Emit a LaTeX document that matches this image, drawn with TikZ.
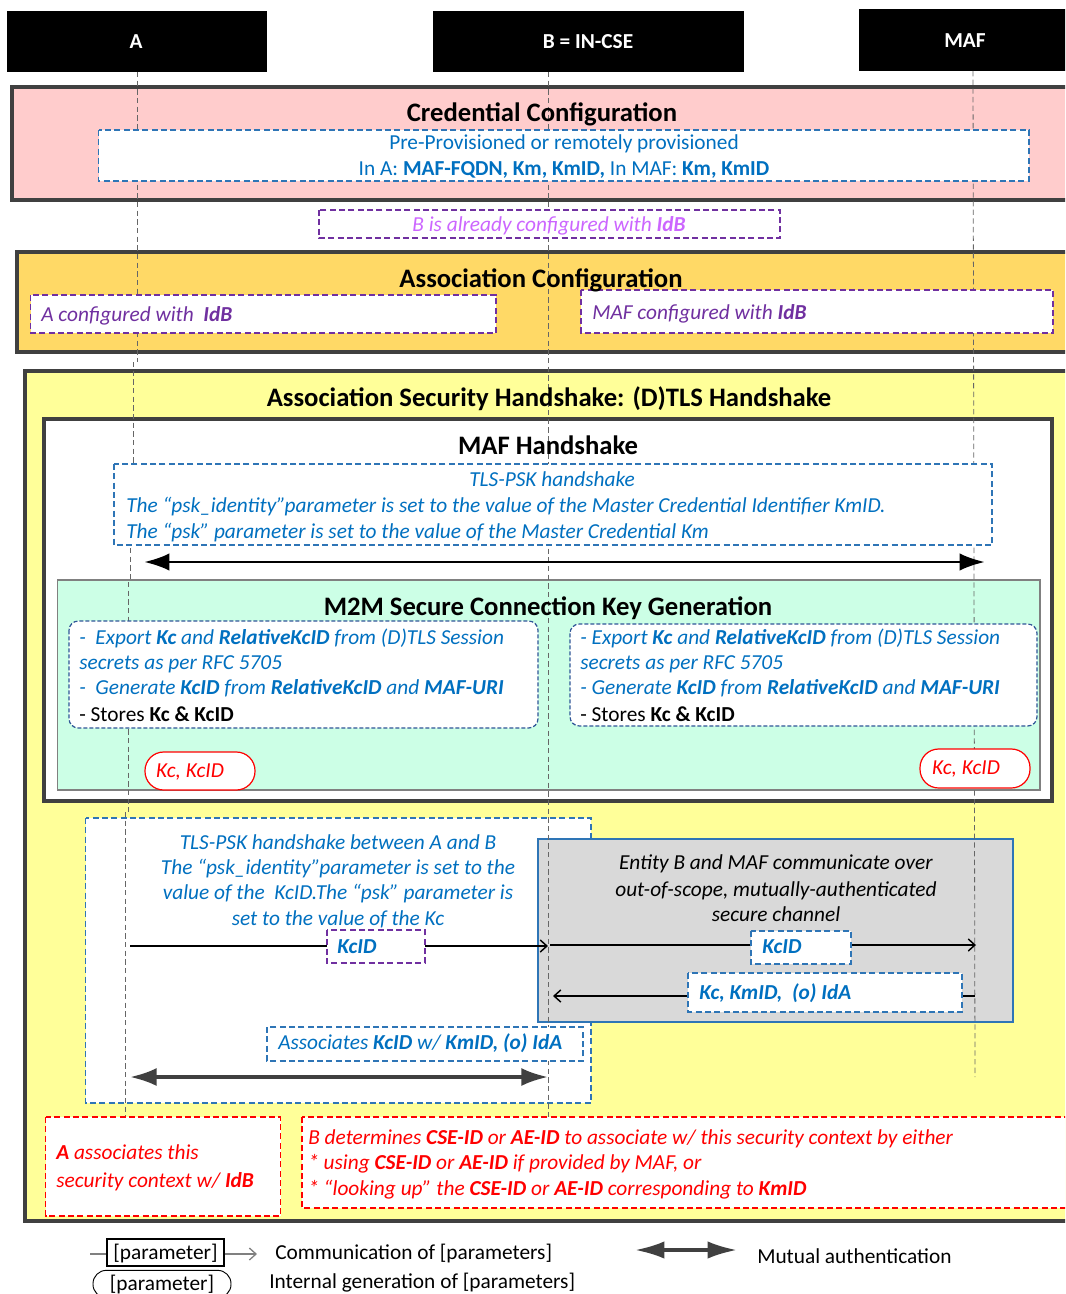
\documentclass[tikz,border=0pt]{standalone}
\usepackage{fontspec}
\setmainfont{Carlito}
\usetikzlibrary{arrows.meta}
\definecolor{pinkf}{HTML}{FFCCCC}
\definecolor{goldf}{HTML}{FFD966}
\definecolor{yelf}{HTML}{FFFF99}
\definecolor{mintf}{HTML}{CCFFE6}
\definecolor{grayf}{HTML}{D9D9D9}
\definecolor{dgray}{HTML}{404040}
\definecolor{tblue}{HTML}{0070C0}
\definecolor{dblue}{HTML}{2E75B6}
\definecolor{purp}{HTML}{7030A0}
\definecolor{lilac}{HTML}{CC66FF}
\definecolor{navyb}{HTML}{2F5597}
\definecolor{redc}{HTML}{FF0000}
\begin{document}
\begin{tikzpicture}[x=0.75pt,y=-0.75pt,
  life/.style={draw=black!60, line width=0.6pt, dash pattern=on 4pt off 2.5pt},
  thk/.style={draw=dgray, line width=3pt},
  bdash/.style={draw=dblue, line width=1pt, dash pattern=on 4.5pt off 2.5pt, fill=white},
  pdash/.style={draw=purp, line width=1pt, dash pattern=on 4.5pt off 2.5pt, fill=white},
  rdash/.style={draw=redc, line width=1pt, dash pattern=on 4.5pt off 2.5pt, fill=white},
  ndash/.style={draw=navyb, line width=0.9pt, dash pattern=on 3pt off 1.5pt, fill=white, rounded corners=7pt},
  pill/.style={draw=redc, line width=0.9pt, fill=white, rounded corners=14pt},
  txt/.style={inner sep=0pt, font=\fontsize{16}{19}\selectfont, text height=10.3pt, text depth=0pt},
  ttl/.style={inner sep=0pt, font=\bfseries\fontsize{20}{24}\selectfont, text height=12.8pt, text depth=0pt},
  hdr/.style={inner sep=0pt, font=\bfseries\fontsize{16}{19}\selectfont, text height=10.3pt, text depth=0pt, text=white},
  msg/.style={draw=black, line width=1.1pt, -{Straight Barb[length=5pt,width=9pt]}},
  mutk/.style={draw=black, line width=2.2pt, {Latex[length=19pt,width=13pt]}-{Latex[length=19pt,width=13pt]}},
  mutg/.style={draw=dgray, line width=2.5pt, {Latex[length=20pt,width=13.5pt]}-{Latex[length=20pt,width=13.5pt]}}
]
\useasboundingbox (0,0) rectangle (1065,1294);
\clip (0,0) rectangle (1065,1294);

% headers
\fill[black] (7,11) rectangle (267,72);
\fill[black] (433,11) rectangle (744,72);
\fill[black] (859,9) rectangle (1075,71);
\node[hdr] (hA) at (136,42) {A};
\node[hdr] (hB) at (588,42) {B = IN-CSE};
\node[hdr] (hM) at (965,41) {MAF};

% big phase boxes
\draw[thk, fill=pinkf] (12,87) rectangle (1085,200);
\draw[thk, fill=goldf] (17,252) rectangle (1085,352);
\draw[thk, fill=yelf] (25,371) rectangle (1085,1221);
\draw[thk, fill=white] (44,419) rectangle (1052,801);
\draw[draw=black!50, line width=0.8pt, fill=mintf] (57.5,580) rectangle (1040,790);
\draw[bdash] (85.5,818) rectangle (591,1103);
\draw[draw=dblue, line width=1.1pt, fill=grayf] (538,839) rectangle (1013,1022);

% lifelines
\coordinate (A0) at (137,72);  \coordinate (A1) at (137,362);
\coordinate (A2) at (133,362); \coordinate (A3) at (133,470);
\coordinate (A4) at (130,470); \coordinate (A5) at (130,582);
\coordinate (A6) at (128,582); \coordinate (A7) at (128,812);
\coordinate (A8) at (125,812); \coordinate (A9) at (125,1117);
\coordinate (B0) at (548,72);  \coordinate (B1) at (548,1117);
\coordinate (M0) at (973,71);  \coordinate (M1) at (975,1077);
\draw[life] (A0) -- (A1);
\draw[life] (A2) -- (A3);
\draw[life] (A4) -- (A5);
\draw[life] (A6) -- (A7);
\draw[life] (A8) -- (A9);
\draw[life] (B0) -- (B1);
\draw[life] (M0) -- (M1);

% white inner boxes
\draw[bdash] (98.5,130) rectangle (1029,181);
\draw[pdash] (319,210) rectangle (780,238);
\draw[pdash] (30.5,295) rectangle (496,333);
\draw[pdash] (581,290) rectangle (1053,333);
\draw[bdash] (114,464) rectangle (992,545);
\draw[ndash] (69,621) rectangle (538,728);
\draw[ndash] (570,624) rectangle (1037,726);
\draw[pill] (145,752) rectangle (255,790);
\draw[pill] (920,749) rectangle (1030,788);
\draw[bdash] (267,1027) rectangle (583,1061);
\draw[rdash] (45.5,1117) rectangle (280.5,1216);
\draw[rdash] (302,1117) rectangle (1085,1208);

% arrows
\coordinate (hsL) at (144,562); \coordinate (hsR) at (985,562);
\draw[mutk] (hsL) -- (hsR);
\coordinate (m1a) at (130,946); \coordinate (m1b) at (548,946);
\draw[msg] (m1a) -- (m1b);
\coordinate (m2a) at (550,945); \coordinate (m2b) at (976,945);
\draw[msg] (m2a) -- (m2b);
\coordinate (m3a) at (975,996); \coordinate (m3b) at (553,996);
\draw[msg] (m3a) -- (m3b);
\coordinate (muL) at (130,1077); \coordinate (muR) at (548,1077);
\draw[mutg] (muL) -- (muR);
\draw[pdash] (327,930) rectangle (425,963);
\draw[bdash] (751,931) rectangle (851,964);
\draw[bdash] (688,973) rectangle (962,1012);

% titles
\node[ttl] (t1) at (542,113) {Credential Configuration};
\node[ttl] (t2) at (541,279) {Association Configuration};
\node[ttl] (t3) at (549,398) {Association Security Handshake: (D)TLS Handshake};
\node[ttl] (t4) at (548,446) {MAF Handshake};
\node[ttl] (t5) at (548,607) {M2M Secure Connection Key Generation};

% credential text
\node[txt, text=tblue] (cc1) at (564,143) {Pre-Provisioned or remotely provisioned};
\node[txt, text=tblue] (cc2) at (564,169) {In A: \textbf{MAF-FQDN, Km, KmID,} In MAF: \textbf{Km, KmID}};
\node[txt, text=lilac] (bb1) at (549,225) {\textit{B is already configured with \textbf{IdB}}};
\node[txt, text=purp, anchor=west] (ac1) at (41,315) {\textit{A configured with\ \ \textbf{IdB}}};
\node[txt, text=purp, anchor=west] (ac2) at (592,313) {\textit{MAF configured with \textbf{IdB}}};

% TLS-PSK MAF handshake
\node[txt, text=tblue] (tl1) at (552,480) {\textit{TLS-PSK handshake}};
\node[txt, text=tblue, anchor=west] (tl2) at (126,506) {\textit{The “psk\_identity”parameter is set to the value of the Master Credential Identifier KmID.}};
\node[txt, text=tblue, anchor=west] (tl3) at (126,532) {\textit{The “psk” parameter is set to the value of the Master Credential Km}};

% M2M key generation
\node[txt, text=tblue, anchor=west] (ml1) at (79,638) {\textit{-\ \ Export \textbf{Kc} and \textbf{RelativeKcID} from (D)TLS Session}};
\node[txt, text=tblue, anchor=west] (ml2) at (79,663) {\textit{secrets as per RFC 5705}};
\node[txt, text=tblue, anchor=west] (ml3) at (79,688) {\textit{-\ \ Generate \textbf{KcID} from \textbf{RelativeKcID} and \textbf{MAF-URI}}};
\node[txt, anchor=west] (ml4) at (79,715) {- Stores \textbf{Kc \& KcID}};
\node[txt, text=tblue, anchor=west] (mr1) at (580,638) {\textit{- Export \textbf{Kc} and \textbf{RelativeKcID} from (D)TLS Session}};
\node[txt, text=tblue, anchor=west] (mr2) at (580,663) {\textit{secrets as per RFC 5705}};
\node[txt, text=tblue, anchor=west] (mr3) at (580,688) {\textit{- Generate \textbf{KcID} from \textbf{RelativeKcID} and \textbf{MAF-URI}}};
\node[txt, anchor=west] (mr4) at (580,715) {- Stores \textbf{Kc \& KcID}};
\node[txt, text=redc] (p1) at (190,771) {\textit{Kc, KcID}};
\node[txt, text=redc] (p2) at (966,768) {\textit{Kc, KcID}};

% lower part
\node[txt, text=tblue] (ll1) at (338,843) {\textit{TLS-PSK handshake between A and B}};
\node[txt, text=tblue] (ll2) at (338,868) {\textit{The “psk\_identity”parameter is set to the}};
\node[txt, text=tblue] (ll3) at (338,893) {\textit{value of the\ \ KcID.The “psk” parameter is}};
\node[txt, text=tblue] (ll4) at (338,919) {\textit{set to the value of the Kc}};
\node[txt] (g1) at (776,863) {\textit{Entity B and MAF communicate over}};
\node[txt] (g2) at (776,890) {\textit{out-of-scope, mutually-authenticated}};
\node[txt] (g3) at (776,915) {\textit{secure channel}};
\node[txt, text=tblue] (k1) at (357,947) {\textit{\textbf{KcID}}};
\node[txt, text=tblue] (k2) at (782,947) {\textit{\textbf{KcID}}};
\node[txt, text=tblue, anchor=west] (k3) at (699,993) {\textit{\textbf{Kc, KmID,\ \ (o) IdA}}};
\node[txt, text=tblue, anchor=west] (as1) at (278,1043) {\textit{Associates \textbf{KcID} w/ \textbf{KmID, (o) IdA}}};

% red boxes text
\node[txt, text=redc, anchor=west] (r1) at (56,1153) {\textit{\textbf{A} associates this}};
\node[txt, text=redc, anchor=west] (r2) at (56,1181) {\textit{security context w/ \textbf{IdB}}};
\node[txt, text=redc, anchor=west] (r3) at (308,1138) {\textit{B determines \textbf{CSE-ID} or \textbf{AE-ID} to associate w/ this security context by either}};
\node[txt, text=redc, anchor=west] (r4) at (308,1163) {\textit{* using \textbf{CSE-ID} or \textbf{AE-ID} if provided by MAF, or}};
\node[txt, text=redc, anchor=west] (r5) at (308,1189) {\textit{* “looking up” the \textbf{CSE-ID} or \textbf{AE-ID} corresponding to \textbf{KmID}}};

% legend
\node[txt, draw=black, line width=0.8pt, minimum width=87.75pt, minimum height=20.25pt, inner sep=0pt] (lgbox) at (165.5,1252.5) {[parameter]};
\coordinate (lgL) at (90,1254);
\coordinate (lgR) at (257,1254);
\draw[draw=black!50, line width=1pt] (lgL) -- (lgbox.west |- lgL);
\draw[draw=black!50, line width=1pt, -{Straight Barb[length=5pt,width=9pt]}] (lgbox.east |- lgR) -- (lgR);
\node[txt, anchor=west] (lgt1) at (275,1253) {Communication of [parameters]};
\coordinate (lgmL) at (635,1250); \coordinate (lgmR) at (737,1250);
\draw[draw=dgray, line width=2.5pt, {Latex[length=22pt,width=13pt]}-{Latex[length=22pt,width=13pt]}] (lgmL) -- (lgmR);
\node[txt, anchor=west] (lgt2) at (757,1257) {Mutual authentication};
\node[txt, draw=black, line width=0.7pt, minimum width=103.5pt, minimum height=20.5pt, rounded corners=10pt] (lgpill) at (162,1284) {[parameter]};
\node[txt, anchor=west] (lgt3) at (269,1282) {Internal generation of [parameters]};
\end{tikzpicture}
\end{document}
